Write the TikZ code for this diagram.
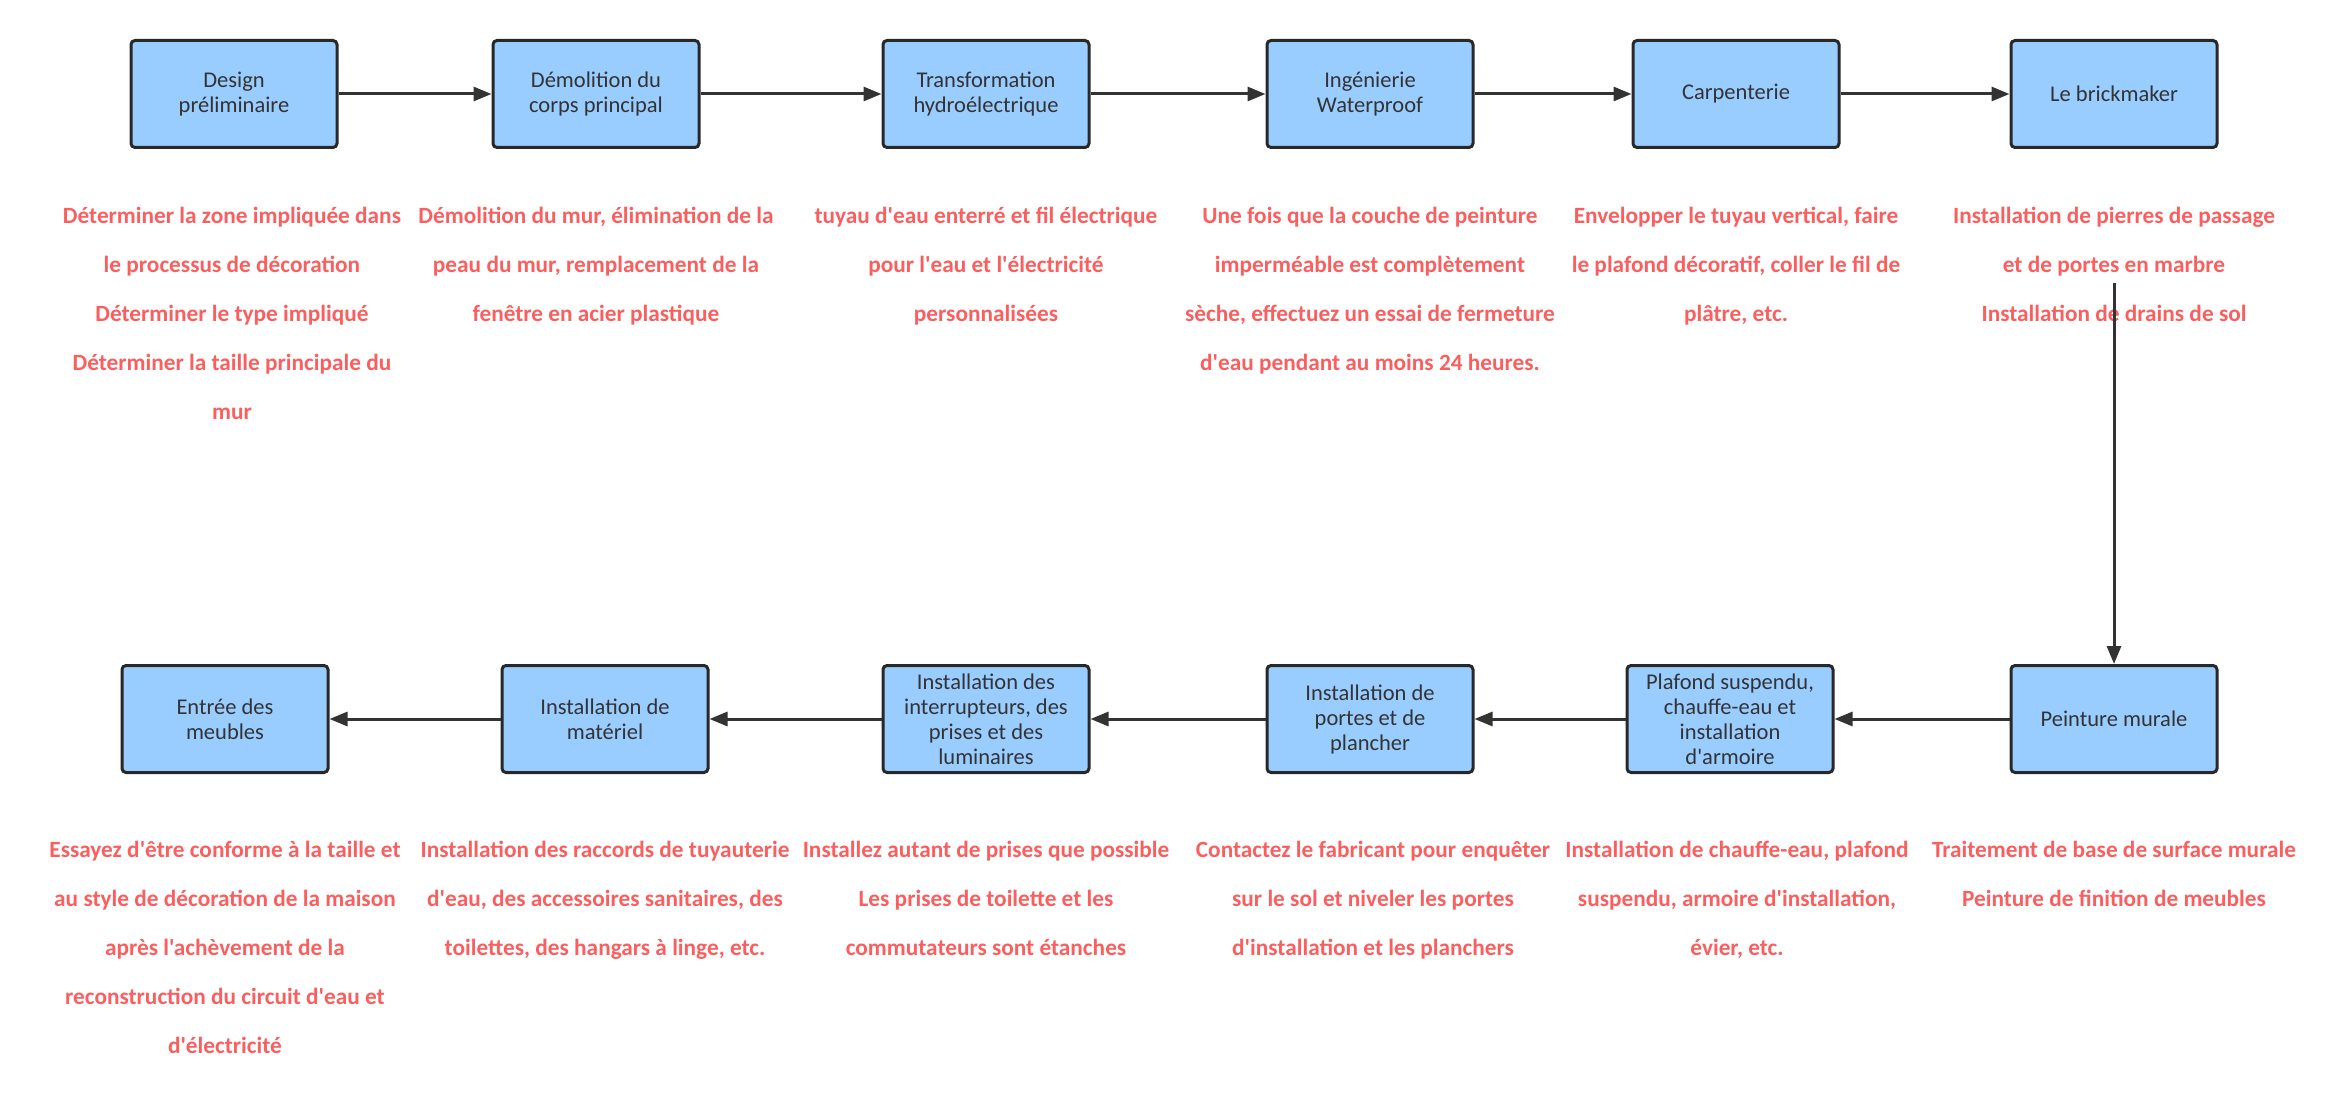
\documentclass[tikz,border=0pt]{standalone}
\usepackage{fontspec}
\setmainfont{Carlito}[Ligatures=TeXOff]
\usepackage{tikz}
\usetikzlibrary{arrows.meta,positioning}
\definecolor{boxblue}{RGB}{153,204,255}
\definecolor{boxline}{RGB}{40,40,40}
\definecolor{notered}{RGB}{250,95,95}
\definecolor{linegray}{RGB}{51,51,51}
\tikzset{
    stepbox/.style={
        draw=boxline,
        line width=3pt,
        fill=boxblue,
        rounded corners=4pt,
        minimum width=206pt,
        minimum height=107pt,
        align=center,
        text=linegray,
        font=\fontsize{22.5}{25}\selectfont
    },
    % texte rouge sous chaque etape
    notetext/.style={
        anchor=north,
        align=center,
        inner sep=0pt,
        text=notered,
        font=\bfseries\fontsize{23.3}{49}\selectfont
    },
    flowarrow/.style={
        line width=3pt,
        linegray,
        -{Triangle[length=18pt, width=14pt]}
    }
}

\begin{document}
\begin{tikzpicture}[x=1pt,y=-1pt]
    \useasboundingbox (0,0) rectangle (2338,1107);

    \node[stepbox] (design) at (234,94) {Design\\préliminaire};
    \node[stepbox] (demolition) at (596,94) {Démolition du\\corps principal};
    \node[stepbox] (hydro) at (986,94) {Transformation\\hydroélectrique};
    \node[stepbox] (waterproof) at (1370,94) {Ingénierie\\Waterproof};
    \node[stepbox] (carpentry) at (1736,94) {Carpenterie};
    \node[stepbox] (brick) at (2114,94) {Le brickmaker};

    \node[stepbox] (murale) at (2114,719) {Peinture murale};
    \node[stepbox] (plafond) at (1730,719) {Plafond suspendu,\\chauffe-eau et\\installation\\d'armoire};
    \node[stepbox] (portes) at (1370,719) {Installation de\\portes et de\\plancher};
    \node[stepbox] (prises) at (986,719) {Installation des\\interrupteurs, des\\prises et des\\luminaires};
    \node[stepbox] (materiel) at (605,719) {Installation de\\matériel};
    \node[stepbox] (meubles) at (225,719) {Entrée des\\meubles};

    \node[notetext] (designnote) at (232,207) {Déterminer la zone impliquée dans\\le processus de décoration\\Déterminer le type impliqué\\Déterminer la taille principale du\\mur};
    \node[notetext] (demolitionnote) at (596,207) {Démolition du mur, élimination de la\\peau du mur, remplacement de la\\fenêtre en acier plastique};
    \node[notetext] (hydronote) at (986,207) {tuyau d'eau enterré et fil électrique\\pour l'eau et l'électricité\\personnalisées};
    \node[notetext] (waterproofnote) at (1370,207) {Une fois que la couche de peinture\\imperméable est complètement\\sèche, effectuez un essai de fermeture\\d'eau pendant au moins 24 heures.};
    \node[notetext] (carpentrynote) at (1736,207) {Envelopper le tuyau vertical, faire\\le plafond décoratif, coller le fil de\\plâtre, etc.};
    \node[notetext] (bricknote) at (2114,207) {Installation de pierres de passage\\et de portes en marbre\\Installation de drains de sol};

    \node[notetext] (muralenote) at (2114,841) {Traitement de base de surface murale\\Peinture de finition de meubles};
    \node[notetext] (plafondnote) at (1737,841) {Installation de chauffe-eau, plafond\\suspendu, armoire d'installation,\\évier, etc.};
    \node[notetext] (portesnote) at (1373,841) {Contactez le fabricant pour enquêter\\sur le sol et niveler les portes\\d'installation et les planchers};
    \node[notetext] (prisesnote) at (986,841) {Installez autant de prises que possible\\Les prises de toilette et les\\commutateurs sont étanches};
    \node[notetext] (materielnote) at (605,841) {Installation des raccords de tuyauterie\\d'eau, des accessoires sanitaires, des\\toilettes, des hangars à linge, etc.};
    \node[notetext] (meublesnote) at (225,841) {Essayez d'être conforme à la taille et\\au style de décoration de la maison\\après l'achèvement de la\\reconstruction du circuit d'eau et\\d'électricité};

    \draw[flowarrow] (design) -- (demolition);
    \draw[flowarrow] (demolition) -- (hydro);
    \draw[flowarrow] (hydro) -- (waterproof);
    \draw[flowarrow] (waterproof) -- (carpentry);
    \draw[flowarrow] (carpentry) -- (brick);

    \coordinate (brickdrop) at (2114,283);
    \draw[flowarrow] (brickdrop) -- (murale.north);

    \draw[flowarrow] (murale) -- (plafond);
    \draw[flowarrow] (plafond) -- (portes);
    \draw[flowarrow] (portes) -- (prises);
    \draw[flowarrow] (prises) -- (materiel);
    \draw[flowarrow] (materiel) -- (meubles);
\end{tikzpicture}
\end{document}
